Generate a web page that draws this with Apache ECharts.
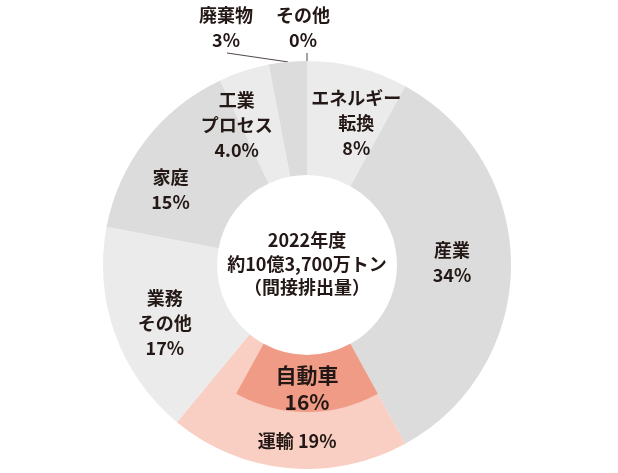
<!DOCTYPE html>
<html><head><meta charset="utf-8">
<script src="https://cdn.jsdelivr.net/npm/echarts@6/dist/echarts.min.js"></script>
<style>html,body{margin:0;padding:0;background:#fff}#c{width:618px;height:473px}</style>
</head><body><div id="c"></div>
<script>
// ---- data ----
const categories = ['その他', 'エネルギー転換', '産業', '運輸', '業務その他', '家庭', '工業プロセス', '廃棄物'];
const labelNames = ['その他', 'エネルギー\n転換', '産業', '運輸', '業務\nその他', '家庭', '工業\nプロセス', '廃棄物'];
const shares = [0, 8, 34, 19, 17, 15, 4.0, 3];
const shareLabels = ['0%', '8%', '34%', '19%', '17%', '15%', '4.0%', '3%'];
const subCategory = '自動車';
const subParent = '運輸';
const subShare = 16;
const subShareLabel = '16%';
const centerLines = ['2022年度', '約10億3,700万トン', '（間接排出量）'];

// ---- layout / style ----
const CX = 307, CY = 265, R0 = 90, R1 = 204, RSUB = 147;
const TXT = '#231815';
const FONT = '"Noto Sans CJK JP", "Noto Sans CJK SC", sans-serif';
const LIGHT = '#ebebeb', DARK = '#dcdcdc', PINK = '#f9cfc3', SALMON = '#f09b86';
const colorOf = {'その他': LIGHT, 'エネルギー転換': LIGHT, '産業': DARK, '運輸': PINK, '業務その他': LIGHT, '家庭': DARK, '工業プロセス': LIGHT, '廃棄物': DARK};
const outsideSet = {'その他': true, '廃棄物': true};
const nudges = {'エネルギー転換': [12, 3], '産業': [-5, -2], '業務その他': [-1, 7], '家庭': [-18, 17], '工業プロセス': [-24, 3]};

const total = shares.reduce((a, b) => a + b, 0);
const parentIdx = categories.indexOf(subParent);
const before = shares.slice(0, parentIdx).reduce((a, b) => a + b, 0);

function midAngle(i) {
  const cum = shares.slice(0, i).reduce((a, b) => a + b, 0);
  return (cum + shares[i] / 2) / total * 360;
}
function polar(a, r) {
  const t = a * Math.PI / 180;
  return [CX + r * Math.sin(t), CY - r * Math.cos(t)];
}

const chart = echarts.init(document.getElementById('c'), null, {renderer: 'canvas'});

const mainData = categories.map((c, i) => {
  const d = {name: c, value: shares[i], itemStyle: {color: colorOf[c]}};
  if (c === subParent) d.label = {show: false};
  if (outsideSet[c]) {
    d.label = {position: 'outside'};
    d.labelLine = {show: true, lineStyle: {color: TXT, width: 0.8}};
  }
  return d;
});

const option = {
  animation: false,
  backgroundColor: '#fff',
  graphic: [{
    type: 'text', x: CX, y: CY - 1, silent: true,
    style: {text: centerLines.join('\n'), fill: TXT, font: 'bold 18px ' + FONT, lineHeight: 23.5, align: 'center', verticalAlign: 'middle'}
  }],
  series: [
    {
      type: 'pie', radius: [R0, R1], center: [CX, CY], startAngle: 90, clockwise: true,
      silent: true, avoidLabelOverlap: false, minAngle: 0,
      label: {show: true, position: 'inside', color: TXT, fontFamily: FONT, fontWeight: 'bold', fontSize: 18, lineHeight: 25,
        formatter: p => labelNames[p.dataIndex] + '\n' + shareLabels[p.dataIndex]},
      labelLine: {show: false},
      labelLayout: function (p) {
        const c = categories[p.dataIndex];
        if (c === '廃棄物') {
          const a = midAngle(p.dataIndex);
          return {x: 226, y: 28, align: 'center', verticalAlign: 'middle',
            labelLinePoints: [polar(a, 192), polar(a, 204), [227, 53]]};
        }
        if (c === 'その他') {
          const a = midAngle(p.dataIndex);
          return {x: 303, y: 28, align: 'center', verticalAlign: 'middle',
            labelLinePoints: [polar(a, 188), polar(a, 212), polar(a, 212)]};
        }
        const n = nudges[c];
        return n ? {dx: n[0], dy: n[1]} : {};
      },
      data: mainData
    },
    {
      type: 'pie', radius: [RSUB, R1], center: [CX, CY], startAngle: 90, clockwise: true,
      silent: true, avoidLabelOverlap: false, z: 3,
      label: {show: false, position: 'inside', color: TXT, fontFamily: FONT, fontWeight: 'bold', fontSize: 18,
        formatter: p => labelNames[p.dataIndex] + ' ' + shareLabels[p.dataIndex]},
      labelLine: {show: false},
      labelLayout: function () { return {dx: 7, dy: -2}; },
      data: categories.map((c, i) => ({name: c, value: shares[i], itemStyle: {color: 'rgba(0,0,0,0)'}, label: {show: c === subParent}}))
    },
    {
      type: 'pie', radius: [R0, RSUB], center: [CX, CY], startAngle: 90, clockwise: true,
      silent: true, avoidLabelOverlap: false, z: 4,
      label: {show: false, position: 'inside', color: TXT, fontFamily: FONT, fontWeight: 'bold', fontSize: 21, lineHeight: 27,
        formatter: p => p.name + '\n' + subShareLabel},
      labelLine: {show: false},
      labelLayout: function () { return {dy: 2}; },
      data: [
        {name: 'before', value: before, itemStyle: {color: 'rgba(0,0,0,0)'}},
        {name: subCategory, value: subShare, itemStyle: {color: SALMON}, label: {show: true}},
        {name: 'after', value: total - before - subShare, itemStyle: {color: 'rgba(0,0,0,0)'}}
      ]
    }
  ]
};
chart.setOption(option);
</script></body></html>
